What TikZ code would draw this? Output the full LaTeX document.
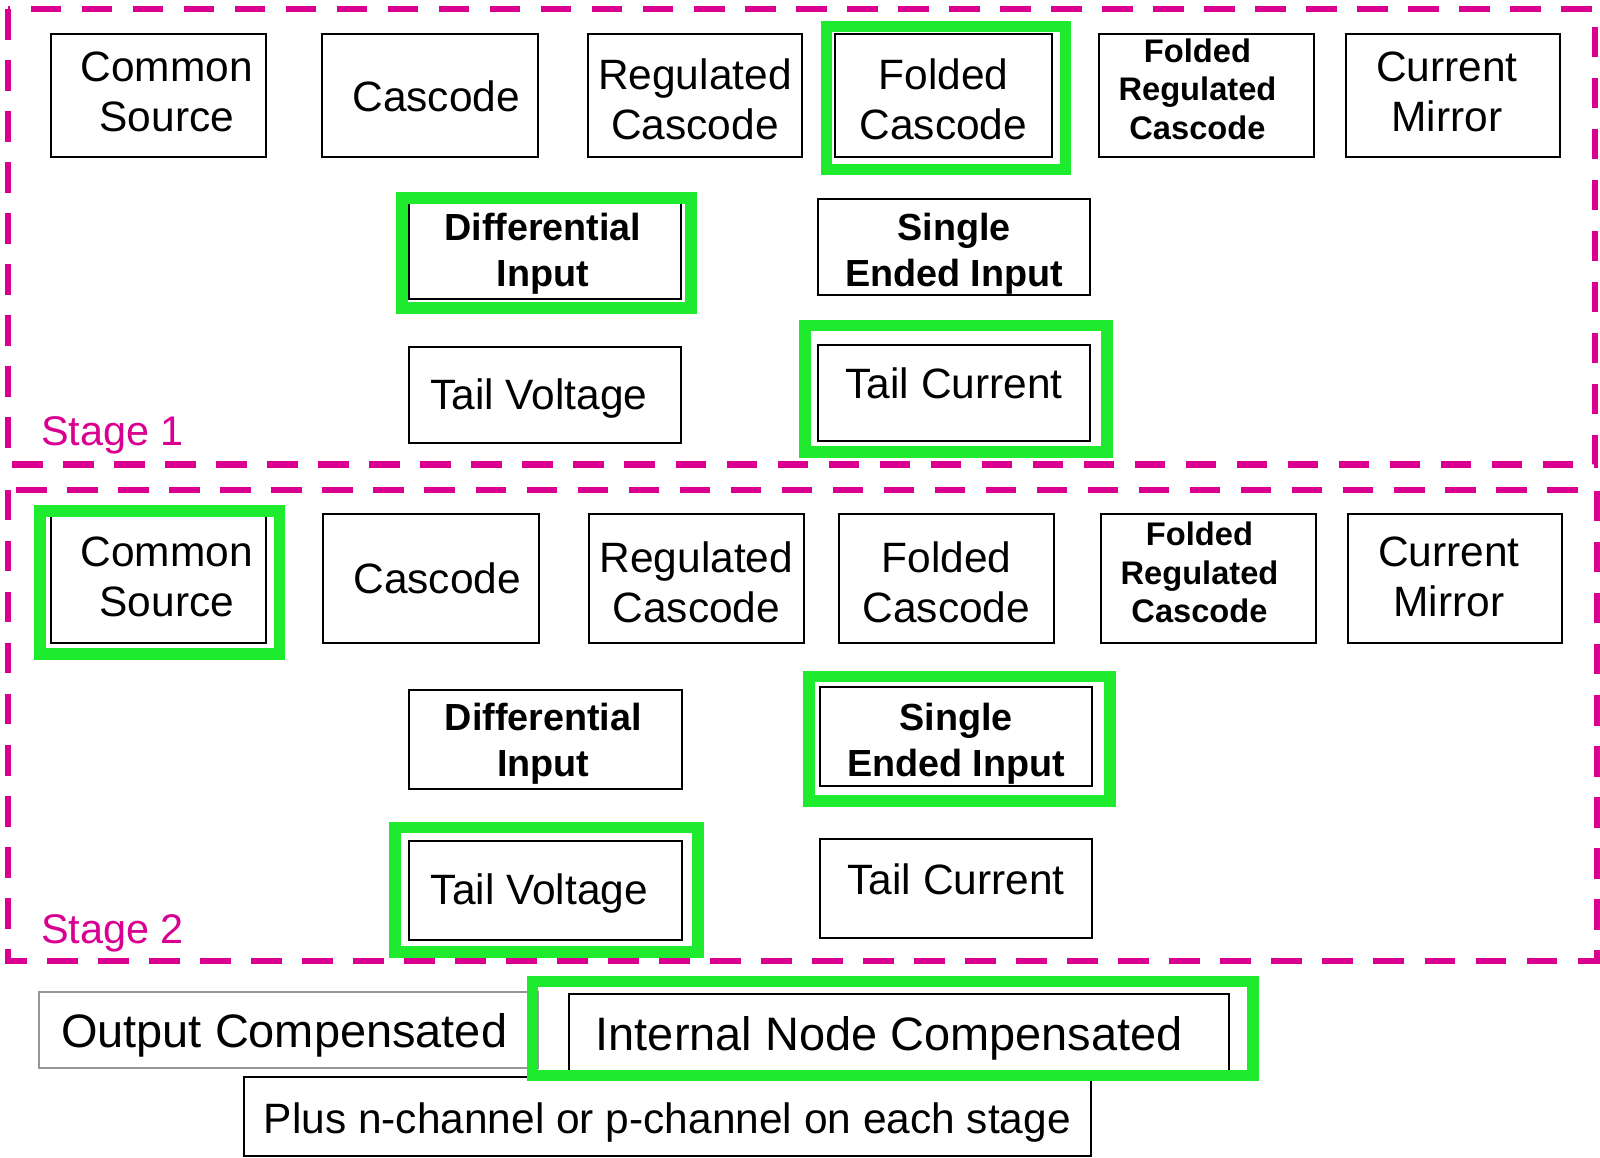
\documentclass[tikz,border=0pt]{standalone}
\usepackage{fontspec}
\setmainfont{Liberation Sans}
\usetikzlibrary{fit}
\definecolor{stagemag}{RGB}{217,0,145}
\definecolor{selgreen}{RGB}{30,235,45}
\definecolor{boxgray}{RGB}{150,150,150}
% one text line shifted right by #1/2 and up by #2 without changing its measured size
\newcommand\tline[3]{\hspace*{#1}\raisebox{#2}[\height][\depth]{#3}}
\tikzset{
  stagedash/.style={draw=stagemag, line width=3.2pt, dash pattern=on 15pt off 10pt},
  choice/.style={draw=black, line width=1pt, inner sep=0pt, align=center, font=\fontsize{20.8}{24.5}\selectfont},
  choicebold/.style={choice, font=\bfseries\fontsize{18.5}{22.5}\selectfont},
  choicesmall/.style={choice, font=\bfseries\fontsize{16}{19}\selectfont},
  compbox/.style={choice, font=\fontsize{23}{26}\selectfont},
  selframe/.style={draw=selgreen, line width=5.7pt, inner sep=0pt},
  stagelabel/.style={text=stagemag, inner sep=0pt, anchor=base west, font=\fontsize{20.3}{24}\selectfont},
  rowone/.style={minimum height=60.5pt},
  rowtwo/.style={minimum height=63pt}
}
\begin{document}
\begin{tikzpicture}[x=0.5pt,y=-0.5pt]
\useasboundingbox (0,0) rectangle (1568,1134);
\fill[white] (0,0) rectangle (1568,1134);

% stage frames
\draw[stagedash] (8,9) rectangle (1563,455);
\draw[stagedash] (8,480) rectangle (1565,942);
\node[stagelabel] (st1) at (40,437) {Stage 1};
\node[stagelabel] (st2) at (40,925) {Stage 2};

% stage 1
\node[choice, rowone, minimum width=105.5pt] (s1cs) at (155.5,93.5) {\tline{8pt}{1.5pt}{Common}\\\tline{8pt}{1.5pt}{Source}};
\node[choice, rowone, minimum width=105.5pt] (s1cas) at (421.5,93.5) {\tline{6pt}{-0.5pt}{Cascode}};
\node[choice, rowone, minimum width=105pt] (s1reg) at (681,93.5) {\tline{0pt}{-2pt}{Regulated}\\\tline{0pt}{-2pt}{Cascode}};
\node[choice, rowone, minimum width=106.5pt] (s1fold) at (924.5,93.5) {\tline{0pt}{-2pt}{Folded}\\\tline{0pt}{-2pt}{Cascode}};
\node[choicesmall, rowone, minimum width=105.5pt] (s1frc) at (1182.5,93.5) {\tline{-9pt}{3pt}{Folded}\\\tline{-9pt}{3pt}{Regulated}\\\tline{-9pt}{3pt}{Cascode}};
\node[choice, rowone, minimum width=105pt] (s1cm) at (1424,93.5) {\tline{-6pt}{1.5pt}{Current}\\\tline{-6pt}{1.5pt}{Mirror}};
\node[choicebold, minimum width=133pt, minimum height=47.5pt] (s1diff) at (534,245.5) {\tline{-2pt}{-1.5pt}{Differential}\\\tline{-2pt}{-1.5pt}{Input}};
\node[choicebold, minimum width=133pt, minimum height=47pt] (s1se) at (935,242) {\tline{0pt}{-3.5pt}{Single}\\\tline{0pt}{-3.5pt}{Ended Input}};
\node[choice, minimum width=133pt, minimum height=47pt] (s1tv) at (534,387) {\tline{-6pt}{-2pt}{Tail Voltage}};
\node[choice, minimum width=133pt, minimum height=47pt] (s1tc) at (935,385) {\tline{0pt}{4.5pt}{Tail Current}};

% stage 2
\node[choice, rowtwo, minimum width=105.5pt] (s2cs) at (155.5,567) {\tline{8pt}{1pt}{Common}\\\tline{8pt}{1pt}{Source}};
\node[choice, rowtwo, minimum width=105.5pt] (s2cas) at (422.5,567) {\tline{6pt}{0pt}{Cascode}};
\node[choice, rowtwo, minimum width=105.5pt] (s2reg) at (682.5,567) {\tline{0pt}{-2pt}{Regulated}\\\tline{0pt}{-2pt}{Cascode}};
\node[choice, rowtwo, minimum width=105.5pt] (s2fold) at (927.5,567) {\tline{0pt}{-2pt}{Folded}\\\tline{0pt}{-2pt}{Cascode}};
\node[choicesmall, rowtwo, minimum width=105.5pt] (s2frc) at (1184.5,567) {\tline{-9pt}{3pt}{Folded}\\\tline{-9pt}{3pt}{Regulated}\\\tline{-9pt}{3pt}{Cascode}};
\node[choice, rowtwo, minimum width=105pt] (s2cm) at (1426,567) {\tline{-6pt}{1pt}{Current}\\\tline{-6pt}{1pt}{Mirror}};
\node[choicebold, minimum width=133.5pt, minimum height=48.5pt] (s2diff) at (534.5,724.5) {\tline{-2pt}{-2pt}{Differential}\\\tline{-2pt}{-2pt}{Input}};
\node[choicebold, minimum width=133pt, minimum height=48.5pt] (s2se) at (937,721.5) {\tline{0pt}{-3.5pt}{Single}\\\tline{0pt}{-3.5pt}{Ended Input}};
\node[choice, minimum width=133.5pt, minimum height=48.5pt] (s2tv) at (534.5,872.5) {\tline{-6pt}{-1.5pt}{Tail Voltage}};
\node[choice, minimum width=133pt, minimum height=48.5pt] (s2tc) at (937,870.5) {\tline{0pt}{4.5pt}{Tail Current}};

% compensation and polarity
\node[compbox, draw=boxgray, minimum width=244.5pt, minimum height=37.5pt] (outc) at (282.5,1009.5) {\tline{-4pt}{-2.5pt}{Output Compensated}};
\node[compbox, minimum width=323pt, minimum height=38pt] (inc) at (881,1012) {\tline{-9.5pt}{-3pt}{Internal Node Compensated}};
\node[choice, minimum width=415pt, minimum height=39pt] (pol) at (654,1094) {\tline{0pt}{-3pt}{Plus n-channel or p-channel on each stage}};

% selections
\node[selframe, fit={(810,26) (1044,166)}] (g1) {};
\node[selframe, fit={(394,194) (677,302)}] (g2) {};
\node[selframe, fit={(789,319) (1085,443)}] (g3) {};
\node[selframe, fit={(39,501) (274,641)}] (g4) {};
\node[selframe, fit={(793,663) (1088,785)}] (g5) {};
\node[selframe, fit={(387,811) (684,933)}] (g6) {};
\node[selframe, fit={(522,962) (1228,1054)}] (g7) {};
\end{tikzpicture}
\end{document}
